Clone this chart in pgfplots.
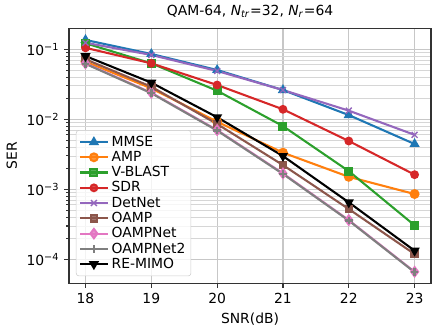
\documentclass[border=0pt]{standalone}
\usepackage{fontspec}
\setmainfont{DejaVu Sans}
\usepackage{pgfplots}
\pgfplotsset{compat=1.18}
\definecolor{tabblue}{HTML}{1F77B4}
\definecolor{taborange}{HTML}{FF7F0E}
\definecolor{tabgreen}{HTML}{2CA02C}
\definecolor{tabred}{HTML}{D62728}
\definecolor{tabpurple}{HTML}{9467BD}
\definecolor{tabbrown}{HTML}{8C564B}
\definecolor{tabpink}{HTML}{E377C2}
\definecolor{tabgray}{HTML}{7F7F7F}

\begin{document}
\begin{tikzpicture}
\begin{axis}[
    scale only axis,
    width=260.6pt, height=183.6pt,
    ymode=log,
    xmin=17.75, xmax=23.25,
    ymin=4.58e-5, ymax=0.201,
    xtick={18,19,20,21,22,23},
    ytick={1e-4,1e-3,1e-2,1e-1},
    yticklabels={10\textsuperscript{−4},10\textsuperscript{−3},10\textsuperscript{−2},10\textsuperscript{−1}},
    /pgf/number format/assume math mode=true,
    tick label style={font=\fontsize{10}{12}\selectfont},
    label style={font=\fontsize{10}{12}\selectfont},
    xlabel={SNR(dB)},
    ylabel={SER},
    title={QAM-64, \textit{N}\textsubscript{\textit{tr}}=32, \textit{N}\textsubscript{\textit{r}}=64},
    title style={font=\fontsize{10}{12}\selectfont, yshift=-2pt},
    axis line style={black!80, line width=0.8pt},
    tick style={black!80, line width=0.8pt},
    tick align=outside,
    major tick length=3.5pt,
    minor tick length=2pt,
    xtick pos=bottom, ytick pos=left,
    grid=both,
    xminorgrids=false,
    major grid style={line width=0.8pt, draw=black!22},
    minor grid style={line width=0.6pt, draw=black!16},
    every axis plot/.append style={line width=1.5pt, mark size=2.8pt},
    legend style={at={(0.019,0.027)}, anchor=south west,
        font=\fontsize{10}{12}\selectfont,
        draw=black!20, rounded corners=2pt, fill=white, fill opacity=0.8, text opacity=1,
        row sep=-1.9pt, inner xsep=2pt, inner ysep=2pt},
    legend cell align=left,
    legend image code/.code={\draw[mark repeat=2,mark phase=2] plot coordinates {(0pt,0pt)(10pt,0pt)(20pt,0pt)};},
]
\addplot[tabblue, mark=triangle*, mark options={solid}] coordinates {
(18,0.136)(19,0.0857)(20,0.0506)(21,0.0262)(22,0.0115)(23,0.00444)};
\addlegendentry{MMSE}
\addplot[taborange, mark=*] coordinates {
(18,0.0665)(19,0.0277)(20,0.00924)(21,0.00334)(22,0.00151)(23,0.000857)};
\addlegendentry{AMP}
\addplot[tabgreen, mark=square*, mark size=2.5pt] coordinates {
(18,0.122)(19,0.063)(20,0.0256)(21,0.0080)(22,0.00182)(23,0.000306)};
\addlegendentry{V-BLAST}
\addplot[tabred, mark=*, mark size=2.4pt] coordinates {
(18,0.105)(19,0.063)(20,0.0309)(21,0.0139)(22,0.0049)(23,0.00162)};
\addlegendentry{SDR}
\addplot[tabpurple, mark=x, mark size=3pt, mark options={line width=1pt}] coordinates {
(18,0.124)(19,0.083)(20,0.049)(21,0.0262)(22,0.0133)(23,0.0060)};
\addlegendentry{DetNet}
\addplot[tabbrown, mark=square*, mark size=2.3pt] coordinates {
(18,0.072)(19,0.0292)(20,0.00857)(21,0.00222)(22,0.000523)(23,0.000119)};
\addlegendentry{OAMP}
\addplot[tabpink, mark=diamond*, mark size=3.3pt] coordinates {
(18,0.063)(19,0.024)(20,0.00703)(21,0.00169)(22,0.000364)(23,6.65e-5)};
\addlegendentry{OAMPNet}
\addplot[tabgray, mark=+, mark size=2.8pt, mark options={line width=1.8pt}] coordinates {
(18,0.062)(19,0.0236)(20,0.0069)(21,0.00166)(22,0.000358)(23,6.55e-5)};
\addlegendentry{OAMPNet2}
\addplot[black, mark=triangle*, mark options={rotate=180}] coordinates {
(18,0.080)(19,0.0334)(20,0.0107)(21,0.00299)(22,0.000652)(23,0.000133)};
\addlegendentry{RE-MIMO}
\end{axis}
\pgfresetboundingbox
\path (-49.7pt,-35.3pt) rectangle (269.2pt,203.8pt);
\end{tikzpicture}
\end{document}
